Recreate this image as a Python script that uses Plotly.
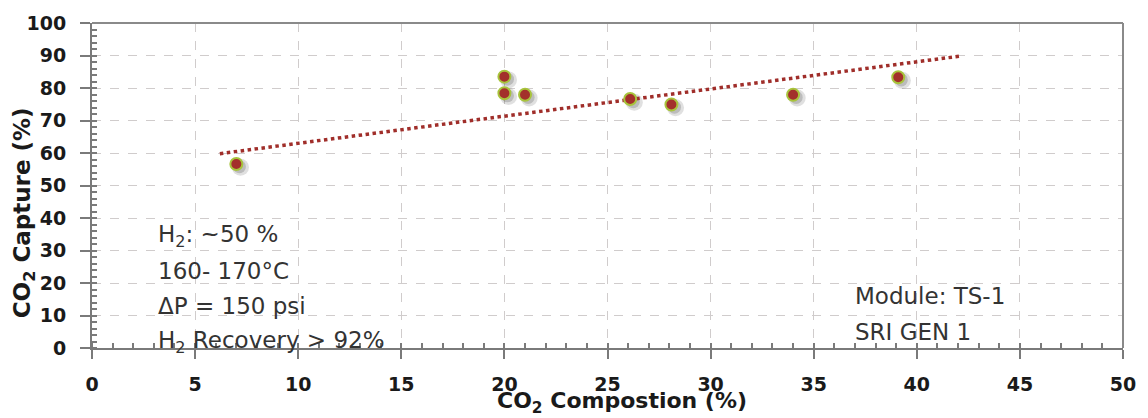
import plotly.graph_objects as go

co2_comp = [7.0, 20.0, 20.0, 21.0, 26.1, 28.1, 34.0, 39.1]
co2_capture = [56.6, 83.5, 78.4, 77.9, 76.6, 74.9, 77.9, 83.3]
trend_x = [6.2, 42.2]
trend_y = [59.8, 89.9]
x_ticks = [0, 5, 10, 15, 20, 25, 30, 35, 40, 45, 50]
y_ticks = [0, 10, 20, 30, 40, 50, 60, 70, 80, 90, 100]
left_notes = ["H<sub>2</sub>: ~50 %", "160- 170°C", "ΔP = 150 psi", "H<sub>2</sub> Recovery > 92%"]
left_note_y = [34.5, 23.6, 13.0, 2.0]
right_notes = ["Module: TS-1", "SRI GEN 1"]
right_note_y = [16.0, 4.8]

font = "DejaVu Sans"
dark = "#1a1a1a"

fig = go.Figure()
# soft shadow
fig.add_trace(go.Scatter(
    x=[v + 0.2 for v in co2_comp], y=[v - 1.0 for v in co2_capture], mode="markers",
    marker=dict(size=17, color="rgba(60,60,60,0.16)", line=dict(width=0)),
    hoverinfo="skip", showlegend=False))
fig.add_trace(go.Scatter(
    x=[v + 0.15 for v in co2_comp], y=[v - 0.8 for v in co2_capture], mode="markers",
    marker=dict(size=13, color="rgba(60,60,60,0.22)", line=dict(width=0)),
    hoverinfo="skip", showlegend=False))
fig.add_trace(go.Scatter(
    x=trend_x, y=trend_y, mode="lines",
    line=dict(color="#a02e2a", width=3.5, dash="dot"), showlegend=False))
fig.add_trace(go.Scatter(
    x=co2_comp, y=co2_capture, mode="markers",
    marker=dict(size=12, color="#a3302b", line=dict(color="#a8c43c", width=2)),
    showlegend=False))

for t, yy in zip(left_notes, left_note_y):
    fig.add_annotation(x=3.1, y=yy, text=t, showarrow=False, xanchor="left", yanchor="middle",
                       font=dict(family=font, size=23, color="#333333"))
for t, yy in zip(right_notes, right_note_y):
    fig.add_annotation(x=36.9, y=yy, text=t, showarrow=False, xanchor="left", yanchor="middle",
                       font=dict(family=font, size=23, color="#333333"))

# axis titles
fig.add_annotation(x=(627 - 92) / 1040, y=-(403 - 348) / 329, xref="paper", yref="paper",
                   text="CO<sub>2</sub> Compostion (%)", showarrow=False,
                   xanchor="center", yanchor="middle",
                   font=dict(family=font, size=22, color=dark, weight="bold"))
fig.add_annotation(x=-(92 - 23) / 1040, y=(348 - 211) / 329, xref="paper", yref="paper",
                   text="CO<sub>2</sub> Capture (%)", showarrow=False, textangle=-90,
                   xanchor="center", yanchor="middle",
                   font=dict(family=font, size=23, color=dark, weight="bold"))

fig.update_xaxes(
    range=[0, 50], tickvals=x_ticks, ticktext=[str(v) for v in x_ticks],
    showgrid=True, gridcolor="#d0cccc", griddash="dash", gridwidth=1,
    showline=True, linecolor="#7a7a7a", linewidth=2,
    ticks="outside", ticklen=9, tickcolor="#7a7a7a", tickwidth=1.5,
    ticklabelstandoff=9,
    minor=dict(dtick=1, tick0=0, ticks="inside", ticklen=5, tickcolor="#7a7a7a", showgrid=False),
    tickfont=dict(family=font, size=19, color=dark, weight="bold"),
    zeroline=False)
fig.update_yaxes(
    range=[0, 100], tickvals=y_ticks, ticktext=[str(v) for v in y_ticks],
    showgrid=True, gridcolor="#d0cccc", griddash="dash", gridwidth=1,
    showline=True, linecolor="#7a7a7a", linewidth=2,
    ticks="outside", ticklen=10, tickcolor="#7a7a7a", tickwidth=1.5,
    ticklabelstandoff=10,
    minor=dict(dtick=2, tick0=0, ticks="inside", ticklen=5, tickcolor="#7a7a7a", showgrid=False),
    tickfont=dict(family=font, size=19, color=dark, weight="bold"),
    zeroline=False)

# frame top/right
fig.add_shape(type="line", xref="paper", yref="paper", x0=0, x1=1, y0=1, y1=1,
              line=dict(color="#8a8a8a", width=2))
fig.add_shape(type="line", xref="paper", yref="paper", x0=1, x1=1, y0=0, y1=1,
              line=dict(color="#8a8a8a", width=2))

fig.update_layout(
    width=1148, height=418,
    margin=dict(l=92, r=16, t=19, b=70),
    plot_bgcolor="white", paper_bgcolor="white",
    showlegend=False)

fig.write_html("out.html")
